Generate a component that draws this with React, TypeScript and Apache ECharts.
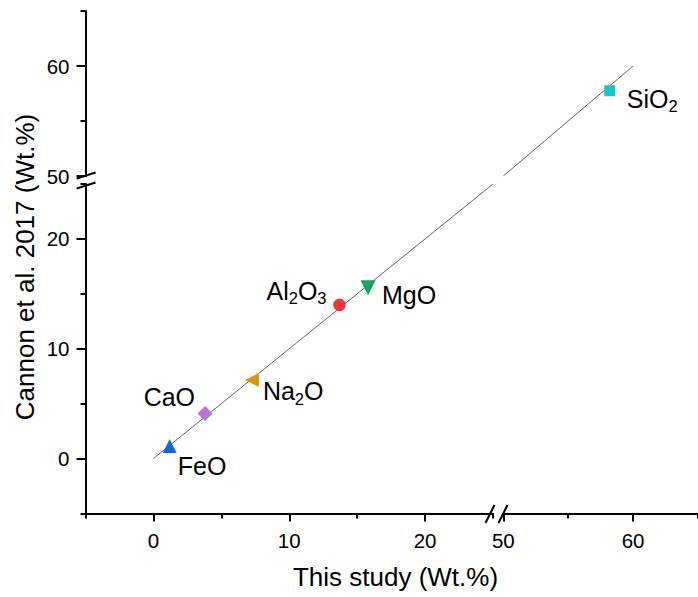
import React, { useEffect, useRef } from "react";
import * as echarts from "echarts";

// ---- data ----
const compounds = ["FeO", "CaO", "Na2O", "Al2O3", "MgO", "SiO2"];
const labelTexts = ["FeO", "CaO", "Na{s|2}O", "Al{s|2}O{s|3}", "MgO", "SiO{s|2}"];
const thisStudy = [1.2, 3.8, 7.25, 13.7, 15.8, 58.2];
const cannon2017 = [1.15, 4.1, 7.15, 14.0, 15.55, 57.75];

const lowMajorTicks = [0, 10, 20];
const lowMinorTicks = [-5, 5, 15, 25];
const highMajorTicks = [50, 60];
const highMinorTicks = [55, 65];

const oneToOneLow = [
  [0, 0],
  [25, 25],
];
const oneToOneHigh = [
  [50, 50],
  [60, 60],
];

// ---- styles ----
const FONT = "'Liberation Sans', Arial, Helvetica, sans-serif";
const markerStyles: Record<string, any> = {
  FeO: { symbol: "triangle", size: 14, rotate: 0, color: "#1468e6", align: "left", offset: [8, 20] },
  CaO: { symbol: "diamond", size: 15, rotate: 0, color: "#bf6ee0", align: "right", offset: [-10, -17] },
  Na2O: { symbol: "triangle", size: 14, rotate: 90, color: "#d8940a", align: "left", offset: [11, 11] },
  Al2O3: { symbol: "circle", size: 12.5, rotate: 0, color: "#f23434", align: "right", offset: [-13, -14] },
  MgO: { symbol: "triangle", size: 15, rotate: 180, color: "#10a560", align: "left", offset: [14, 7] },
  SiO2: { symbol: "rect", size: 11, rotate: 0, color: "#1cc4c4", align: "left", offset: [17, 8] },
};

const axisBase = (gridIndex: number, min: number, max: number, offset: number, major: number[], tickLen: number) => ({
  type: "value",
  gridIndex,
  min,
  max,
  interval: 5,
  offset,
  axisLine: { show: true, onZero: false, lineStyle: { color: "#000", width: 2 } },
  axisTick: { show: true, customValues: major, length: tickLen, lineStyle: { color: "#000", width: 2 } },
  axisLabel: { show: true, customValues: major, fontSize: 20.5, color: "#000", fontFamily: FONT, margin: 16 },
  splitLine: { show: false },
});

const axisMinor = (gridIndex: number, min: number, max: number, offset: number, minor: number[]) => ({
  type: "value",
  gridIndex,
  min,
  max,
  interval: 5,
  offset,
  axisLine: { show: false, onZero: false },
  axisTick: { show: true, customValues: minor, length: 5, lineStyle: { color: "#000", width: 2 } },
  axisLabel: { show: false },
  splitLine: { show: false },
});

export default function App() {
  const ref = useRef<HTMLDivElement>(null);

  useEffect(() => {
    if (!ref.current) return;
    const chart = echarts.init(ref.current, null, { renderer: "svg" });

    const gridLowLeft = 85.5;
    const gridLowTop = 184;
    const gridLowBottom = 513.5;
    const gridHighLeft = 503.3;
    const gridHighTop = 11;
    const gridHighBottom = 176;

    const xOffsetHigh = gridLowBottom - gridHighBottom;
    const yOffsetHigh = gridHighLeft - gridLowLeft;

    const scatterSeries = compounds.map((name, i) => {
      const st = markerStyles[name];
      const high = thisStudy[i] >= 50;
      return {
        type: "scatter",
        name,
        xAxisIndex: high ? 2 : 0,
        yAxisIndex: high ? 2 : 0,
        symbol: st.symbol,
        symbolSize: st.size,
        symbolRotate: st.rotate,
        itemStyle: { color: st.color, opacity: 1 },
        z: 5,
        data: [[thisStudy[i], cannon2017[i]]],
        label: {
          show: true,
          position: "inside",
          align: st.align,
          verticalAlign: "middle",
          offset: st.offset,
          formatter: labelTexts[i],
          color: "#000",
          fontSize: 25,
          lineHeight: 32,
          fontFamily: FONT,
          rich: {
            s: { fontSize: 16.5, lineHeight: 16, verticalAlign: "bottom", color: "#000", fontFamily: FONT },
          },
        },
      };
    });

    const lineStyle = { color: "#555", width: 0.9 };

    chart.setOption({
      animation: false,
      textStyle: { fontFamily: FONT },
      grid: [
        { left: gridLowLeft, top: gridLowTop, width: 493 - gridLowLeft, height: gridLowBottom - gridLowTop },
        { left: gridHighLeft, top: gridHighTop, width: 203.1, height: gridHighBottom - gridHighTop },
      ],
      xAxis: [
        { ...axisBase(0, -5, 25, 0, lowMajorTicks, 8), position: "bottom" },
        { ...axisMinor(0, -5, 25, 0, lowMinorTicks), position: "bottom" },
        { ...axisBase(1, 50, 65, xOffsetHigh, highMajorTicks, 8), position: "bottom" },
        { ...axisMinor(1, 50, 65, xOffsetHigh, highMinorTicks), position: "bottom" },
      ],
      yAxis: [
        { ...axisBase(0, -5, 25, 0, lowMajorTicks, 9), position: "left" },
        { ...axisMinor(0, -5, 25, 0, lowMinorTicks), position: "left" },
        { ...axisBase(1, 50, 65, yOffsetHigh, highMajorTicks, 9), position: "left" },
        { ...axisMinor(1, 50, 65, yOffsetHigh, highMinorTicks), position: "left" },
      ],
      series: [
        {
          type: "line",
          xAxisIndex: 0,
          yAxisIndex: 0,
          data: oneToOneLow,
          symbol: "none",
          silent: true,
          lineStyle,
          z: 2,
        },
        {
          type: "line",
          xAxisIndex: 2,
          yAxisIndex: 2,
          data: oneToOneHigh,
          symbol: "none",
          silent: true,
          lineStyle,
          z: 2,
        },
        ...scatterSeries,
      ],
      graphic: [
        // axis break marks
        { type: "line", z: 100, shape: { x1: 76.7, y1: 178.5, x2: 95.5, y2: 172.5 }, style: { stroke: "#000", lineWidth: 2 } },
        { type: "line", z: 100, shape: { x1: 76.7, y1: 188.5, x2: 95.5, y2: 182.5 }, style: { stroke: "#000", lineWidth: 2 } },
        { type: "line", z: 100, shape: { x1: 485.5, y1: 523, x2: 494.5, y2: 505 }, style: { stroke: "#000", lineWidth: 2 } },
        { type: "line", z: 100, shape: { x1: 498.5, y1: 523, x2: 507.5, y2: 505 }, style: { stroke: "#000", lineWidth: 2 } },
        // axis titles
        {
          type: "text",
          x: 395.5,
          y: 577,
          style: { text: "This study (Wt.%)", fill: "#000", font: `26px ${FONT}`, align: "center", verticalAlign: "middle" },
        },
        {
          type: "text",
          x: 25,
          y: 267,
          rotation: Math.PI / 2,
          style: { text: "Cannon et al. 2017 (Wt.%)", fill: "#000", font: `26px ${FONT}`, align: "center", verticalAlign: "middle" },
        },
      ],
    });

    return () => chart.dispose();
  }, []);

  return (
    <div
      ref={ref}
      style={{ position: "absolute", left: 0, top: 0, width: 698, height: 597, background: "#fff" }}
    />
  );
}
